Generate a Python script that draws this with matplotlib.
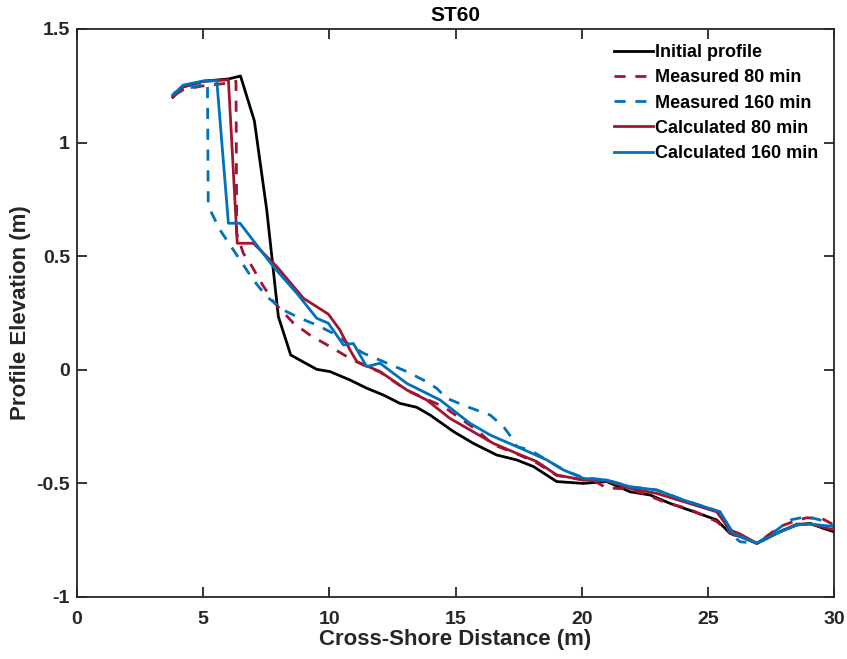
import numpy as np
import matplotlib
matplotlib.use("Agg")
import matplotlib.pyplot as plt

# cross-shore distance (m) and elevation (m)
init_x = [3.8, 4.2, 5.0, 6.0, 6.48, 7.03, 7.52, 7.98, 8.47, 9.5, 10.03, 10.82, 11.48,
          12.14, 12.8, 13.46, 13.99, 14.92, 15.71, 16.63, 17.43, 18.09, 19.01, 20.07,
          20.99, 21.92, 22.71, 23.5, 24.43, 25.35, 25.88, 26.28, 26.94, 27.47, 28.0,
          28.53, 29.05, 29.58, 30.0]
init_y = [1.2, 1.245, 1.27, 1.28, 1.293, 1.095, 0.703, 0.234, 0.065, 0.002, -0.008, -0.045,
          -0.081, -0.111, -0.148, -0.165, -0.199, -0.272, -0.324, -0.375, -0.397, -0.426,
          -0.492, -0.5, -0.492, -0.537, -0.551, -0.588, -0.624, -0.661, -0.72, -0.734,
          -0.764, -0.734, -0.705, -0.683, -0.676, -0.698, -0.713]

meas80_x = [3.82, 4.3, 5.0, 5.93, 6.3, 6.33, 6.59, 6.86, 7.32, 7.78, 8.58, 9.23, 10.03,
            10.82, 11.35, 12.01, 13.07, 13.86, 14.52, 15.84, 16.5, 17.43, 18.22, 19.01,
            20.07, 20.5, 20.99, 21.92, 22.58, 23.37, 24.2, 25.35, 25.75, 26.0, 26.4,
            26.94, 27.86, 28.39, 28.92, 29.58, 30.0]
meas80_y = [1.217, 1.235, 1.25, 1.261, 1.27, 0.6, 0.513, 0.469, 0.38, 0.3, 0.205, 0.153,
            0.102, 0.05, 0.021, -0.01, -0.09, -0.13, -0.162, -0.265, -0.33, -0.37, -0.41,
            -0.465, -0.485, -0.49, -0.52, -0.525, -0.551, -0.586, -0.61, -0.668, -0.705,
            -0.727, -0.734, -0.764, -0.69, -0.668, -0.651, -0.658, -0.683]

meas160_x = [3.75, 4.3, 4.8, 5.17, 5.2, 5.34, 5.67, 6.2, 6.99, 7.52, 8.18, 8.84, 9.5,
             10.16, 10.82, 11.35, 12.14, 13.07, 13.72, 14.25, 14.65, 15.45, 16.37, 16.9,
             17.29, 17.43, 17.95, 18.62, 19.28, 20.07, 20.99, 21.92, 22.97, 24.03, 25.48,
             25.88, 26.28, 26.94, 27.73, 28.26, 28.92, 29.45, 30.0]
meas160_y = [1.205, 1.235, 1.25, 1.26, 0.733, 0.689, 0.615, 0.527, 0.395, 0.322, 0.263,
             0.227, 0.197, 0.16, 0.109, 0.073, 0.036, -0.008, -0.045, -0.081, -0.125,
             -0.162, -0.199, -0.25, -0.309, -0.338, -0.353, -0.397, -0.441, -0.475,
             -0.485, -0.515, -0.529, -0.573, -0.625, -0.72, -0.757, -0.764, -0.705,
             -0.661, -0.646, -0.661, -0.69]

calc80_x = [3.8, 4.2, 5.0, 5.47, 6.0, 6.35, 6.99, 7.92, 8.97, 9.96, 10.42, 10.82, 11.09,
            12.01, 13.07, 13.86, 14.78, 15.58, 16.5, 17.43, 18.22, 19.01, 20.07, 20.99,
            21.92, 22.97, 24.03, 25.35, 25.88, 26.28, 26.94, 27.73, 28.53, 29.05, 30.0]
calc80_y = [1.2, 1.245, 1.27, 1.273, 1.276, 0.557, 0.557, 0.454, 0.315, 0.245, 0.175,
            0.087, 0.036, -0.008, -0.089, -0.133, -0.214, -0.265, -0.324, -0.368, -0.404,
            -0.463, -0.485, -0.49, -0.522, -0.544, -0.58, -0.625, -0.705, -0.723, -0.764,
            -0.72, -0.679, -0.679, -0.705]

calc160_x = [3.8, 4.21, 5.0, 5.54, 6.0, 6.46, 7.78, 8.71, 9.5, 9.96, 10.56, 10.95, 11.48,
             12.01, 13.07, 14.39, 15.58, 16.37, 17.43, 18.62, 19.28, 20.07, 20.99, 21.92,
             22.97, 24.03, 25.48, 26.01, 26.94, 27.73, 28.53, 29.05, 30.0]
calc160_y = [1.21, 1.253, 1.271, 1.272, 0.645, 0.645, 0.454, 0.337, 0.227, 0.205, 0.109,
             0.116, 0.014, 0.029, -0.06, -0.133, -0.236, -0.287, -0.338, -0.397, -0.441,
             -0.478, -0.485, -0.515, -0.529, -0.573, -0.625, -0.72, -0.764, -0.72, -0.683,
             -0.679, -0.69]

x_ticks = [0, 5, 10, 15, 20, 25, 30]
y_ticks = [-1, -0.5, 0, 0.5, 1, 1.5]
y_tick_labels = ["-1", "-0.5", "0", "0.5", "1", "1.5"]

RED = "#A2142F"
BLUE = "#0072BD"

plt.rcParams["font.family"] = ["Liberation Sans", "DejaVu Sans"]
plt.rcParams["font.weight"] = "bold"

fig = plt.figure(figsize=(8.47, 6.59), dpi=100)
ax = fig.add_axes([0.0909, 0.0941, 0.8938, 0.8619])

lw = 2.0
dash = (0, (4, 3.5))
ax.plot(init_x, init_y, color="black", lw=lw, label="Initial profile")
ax.plot(meas80_x, meas80_y, color=RED, lw=lw, ls=dash, label="Measured 80 min")
ax.plot(meas160_x, meas160_y, color=BLUE, lw=lw, ls=dash, label="Measured 160 min")
ax.plot(calc80_x, calc80_y, color=RED, lw=lw, label="Calculated 80 min")
ax.plot(calc160_x, calc160_y, color=BLUE, lw=lw, label="Calculated 160 min")

ax.set_xlim(0, 30)
ax.set_ylim(-1, 1.5)
ax.set_xticks(x_ticks)
ax.set_yticks(y_ticks)
ax.set_yticklabels(y_tick_labels)
ax.tick_params(direction="in", top=True, right=True, labelsize=14, length=7,
               width=1.3, colors="#262626")
ax.tick_params(axis="x", pad=10)
ax.tick_params(axis="y", pad=5)
for s in ax.spines.values():
    s.set_linewidth(1.3)
    s.set_color("#262626")

ax.set_title("ST60", fontsize=15, fontweight="bold", pad=6)
ax.set_xlabel("Cross-Shore Distance (m)", fontsize=16, fontweight="bold",
              color="#262626", labelpad=1)
ax.set_ylabel("Profile Elevation (m)", fontsize=16, fontweight="bold",
              color="#262626", labelpad=4)

ax.legend(loc="upper right", frameon=False, fontsize=13, handlelength=2.15,
          handletextpad=0.15, labelspacing=0.45, borderaxespad=0.45)

fig.savefig("out.png", dpi=100)
